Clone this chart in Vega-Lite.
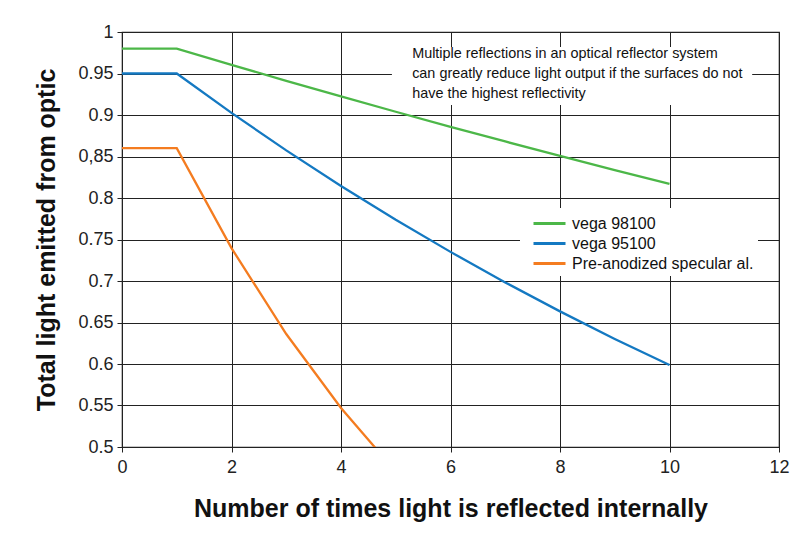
{
  "$schema": "https://vega.github.io/schema/vega-lite/v6.json",
  "autosize": {"type": "none"},
  "width": 657,
  "height": 415,
  "padding": {"left": 122, "top": 32, "right": 22, "bottom": 91},
  "background": "white",
  "config": {
    "font": "Liberation Sans",
    "view": {"stroke": "#222", "strokeWidth": 1.2},
    "axis": {
      "gridColor": "#222", "gridOpacity": 1, "gridWidth": 1,
      "domainColor": "#222", "tickColor": "#222", "tickSize": 5,
      "labelFont": "Liberation Sans", "labelFontSize": 18, "labelColor": "#222",
      "titleFont": "Liberation Sans", "titleFontSize": 25, "titleFontWeight": "bold", "titleColor": "#111"
    }
  },
  "datasets": {
    "curves": [
      {"n": 0, "value": 0.98, "series": "vega 98100"},
      {"n": 1, "value": 0.98, "series": "vega 98100"},
      {"n": 2, "value": 0.9604, "series": "vega 98100"},
      {"n": 3, "value": 0.9412, "series": "vega 98100"},
      {"n": 4, "value": 0.9224, "series": "vega 98100"},
      {"n": 5, "value": 0.9039, "series": "vega 98100"},
      {"n": 6, "value": 0.8858, "series": "vega 98100"},
      {"n": 7, "value": 0.8681, "series": "vega 98100"},
      {"n": 8, "value": 0.8508, "series": "vega 98100"},
      {"n": 9, "value": 0.8337, "series": "vega 98100"},
      {"n": 10, "value": 0.8171, "series": "vega 98100"},
      {"n": 0, "value": 0.95, "series": "vega 95100"},
      {"n": 1, "value": 0.95, "series": "vega 95100"},
      {"n": 2, "value": 0.9025, "series": "vega 95100"},
      {"n": 3, "value": 0.8574, "series": "vega 95100"},
      {"n": 4, "value": 0.8145, "series": "vega 95100"},
      {"n": 5, "value": 0.7738, "series": "vega 95100"},
      {"n": 6, "value": 0.7351, "series": "vega 95100"},
      {"n": 7, "value": 0.6983, "series": "vega 95100"},
      {"n": 8, "value": 0.6634, "series": "vega 95100"},
      {"n": 9, "value": 0.6302, "series": "vega 95100"},
      {"n": 10, "value": 0.5987, "series": "vega 95100"},
      {"n": 0, "value": 0.86, "series": "Pre-anodized specular al."},
      {"n": 1, "value": 0.86, "series": "Pre-anodized specular al."},
      {"n": 2, "value": 0.7396, "series": "Pre-anodized specular al."},
      {"n": 3, "value": 0.6361, "series": "Pre-anodized specular al."},
      {"n": 4, "value": 0.547, "series": "Pre-anodized specular al."},
      {"n": 5, "value": 0.4704, "series": "Pre-anodized specular al."}
    ],
    "note": [
      {"x1": 4.93, "x2": 11.51, "y1": 0.982, "y2": 0.912, "tx": 5.3, "ty": 0.9687,
       "text": "Multiple reflections in an optical reflector system\ncan greatly reduce light output if the surfaces do not\nhave the highest reflectivity"}
    ]
  },
  "layer": [
    {
      "data": {"name": "curves"},
      "mark": {"type": "line", "strokeWidth": 2.3, "clip": true},
      "encoding": {
        "x": {"field": "n", "type": "quantitative",
              "scale": {"domain": [0, 12], "nice": false},
              "axis": {"values": [0, 2, 4, 6, 8, 10, 12], "format": "d", "title": "Number of times light is reflected internally",
                       "titlePadding": 20, "labelPadding": 6, "labelFlush": false}},
        "y": {"field": "value", "type": "quantitative",
              "scale": {"domain": [0.5, 1], "nice": false, "zero": false},
              "axis": {"values": [0.5, 0.55, 0.6, 0.65, 0.7, 0.75, 0.8, 0.85, 0.9, 0.95, 1],
                       "labelExpr": "datum.value == 0.85 ? '0,85' : format(datum.value, '')",
                       "title": "Total light emitted from optic", "titlePadding": 18, "labelPadding": 4, "labelFlush": false}},
        "color": {"field": "series", "type": "nominal",
                  "scale": {"domain": ["vega 98100", "vega 95100", "Pre-anodized specular al."],
                            "range": ["#4cb748", "#1479c2", "#f47c20"]},
                  "legend": {"title": null, "orient": "none", "legendX": 398, "legendY": 176,
                             "fillColor": "white", "padding": 4, "symbolType": "M-1.6,0H1.6",
                             "symbolSize": 400, "symbolStrokeWidth": 3, "symbolOffset": 14, "labelFontSize": 16,
                             "labelFont": "Liberation Sans", "labelColor": "#111", "labelLimit": 400,
                             "rowPadding": 0, "labelOffset": 11}}
      }
    },
    {
      "data": {"name": "note"},
      "mark": {"type": "rect", "fill": "white", "stroke": null},
      "encoding": {
        "x": {"field": "x1", "type": "quantitative"},
        "x2": {"field": "x2"},
        "y": {"field": "y1", "type": "quantitative"},
        "y2": {"field": "y2"}
      }
    },
    {
      "data": {"name": "note"},
      "mark": {"type": "text", "align": "left", "baseline": "alphabetic", "fontSize": 14.4,
               "font": "Liberation Sans", "color": "#111", "lineBreak": "\n", "lineHeight": 20},
      "encoding": {
        "x": {"field": "tx", "type": "quantitative"},
        "y": {"field": "ty", "type": "quantitative"},
        "text": {"field": "text"}
      }
    }
  ]
}
